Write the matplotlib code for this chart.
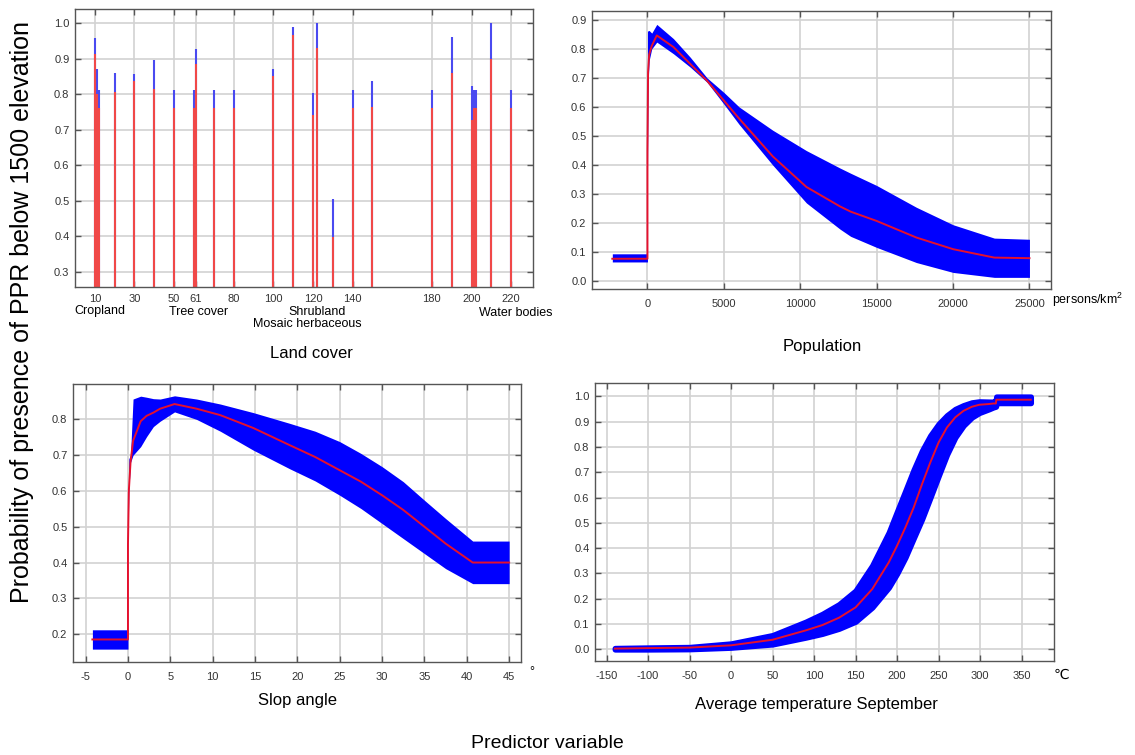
import numpy as np
import matplotlib
matplotlib.use('Agg')
import matplotlib.pyplot as plt

plt.rcParams['font.family'] = ['Liberation Sans', 'DejaVu Sans']
plt.rcParams['mathtext.fontset'] = 'custom'
plt.rcParams['mathtext.rm'] = 'Liberation Sans'
plt.rcParams['mathtext.default'] = 'regular'
plt.rcParams['axes.unicode_minus'] = False

# land cover response (category code, blue = upper, red = mean)
lc_codes = [10, 11, 12, 20, 30, 40, 50, 60, 61, 70, 80, 100, 110, 120, 122,
            130, 140, 150, 180, 190, 200, 201, 202, 210, 220]
lc_upper = [0.958, 0.870, 0.811, 0.861, 0.856, 0.897, 0.811, 0.811, 0.927, 0.811, 0.811,
            0.871, 0.989, 0.804, 1.0, 0.504, 0.811, 0.838, 0.811, 0.961, 0.823, 0.811,
            0.811, 1.0, 0.811]
lc_mean = [0.914, 0.800, 0.762, 0.807, 0.837, 0.816, 0.762, 0.762, 0.884, 0.762, 0.762,
           0.850, 0.967, 0.742, 0.931, 0.397, 0.762, 0.765, 0.762, 0.861, 0.726, 0.762,
           0.762, 0.900, 0.762]
lc_ticks = [10, 30, 50, 61, 80, 100, 120, 140, 180, 200, 220]
lc_classes = ['Cropland', 'Tree cover', 'Shrubland', 'Mosaic herbaceous', 'Water bodies']

# population response
pop_x = [-2300, 0, 0, 40, 110, 280, 610, 1700, 2800, 3900, 5000, 6000, 8200, 10400,
         12600, 13300, 15000, 17600, 20000, 22700, 25000]
pop_mean = [0.078, 0.078, 0.45, 0.72, 0.78, 0.81, 0.846, 0.806, 0.748, 0.69, 0.622, 0.56,
            0.43, 0.325, 0.258, 0.24, 0.208, 0.151, 0.111, 0.082, 0.080]
pop_upper = [0.095, 0.095, 0.86, 0.862, 0.863, 0.854, 0.884, 0.835, 0.771, 0.70, 0.65, 0.60,
             0.52, 0.45, 0.39, 0.372, 0.33, 0.255, 0.195, 0.149, 0.145]
pop_lower = [0.067, 0.067, 0.37, 0.68, 0.76, 0.80, 0.823, 0.783, 0.737, 0.685, 0.61, 0.54,
             0.40, 0.27, 0.18, 0.155, 0.117, 0.065, 0.031, 0.014, 0.014]

# slope response
slope_x = [-4.2, 0, 0, 0.1, 0.3, 0.6, 1.5, 2.2, 3.0, 3.8, 5.5, 8.1, 10.9, 14.8, 19.1,
           22.1, 25, 27.5, 30, 32.5, 35, 37.5, 40.7, 45]
slope_mean = [0.185, 0.185, 0.45, 0.60, 0.68, 0.74, 0.795, 0.81, 0.819, 0.83, 0.843, 0.83,
              0.812, 0.776, 0.728, 0.695, 0.658, 0.626, 0.588, 0.547, 0.50, 0.453, 0.40, 0.40]
slope_upper = [0.212, 0.212, 0.48, 0.69, 0.70, 0.857, 0.865, 0.862, 0.858, 0.857, 0.866,
               0.857, 0.843, 0.819, 0.789, 0.767, 0.738, 0.705, 0.668, 0.626, 0.574, 0.523,
               0.46, 0.46]
slope_lower = [0.158, 0.158, 0.44, 0.60, 0.68, 0.70, 0.724, 0.752, 0.78, 0.795, 0.821, 0.80,
               0.767, 0.714, 0.662, 0.628, 0.588, 0.551, 0.509, 0.467, 0.425, 0.383, 0.341,
               0.341]

# september temperature response
temp_x = [-140, -100, -50, 0, 50, 90, 110, 130, 150, 170, 190, 200, 210, 220, 230, 240, 250,
          260, 270, 280, 290, 299, 311, 316, 319, 319.5, 361]
temp_mean = [0.003, 0.005, 0.007, 0.016, 0.038, 0.075, 0.096, 0.125, 0.166, 0.238, 0.344, 0.41,
             0.482, 0.561, 0.653, 0.739, 0.818, 0.877, 0.917, 0.943, 0.959, 0.967, 0.97,
             0.972, 0.972, 0.987, 0.987]
temp_upper = [0.005, 0.007, 0.009, 0.023, 0.056, 0.109, 0.14, 0.178, 0.232, 0.331, 0.462, 0.545,
              0.627, 0.71, 0.785, 0.845, 0.891, 0.925, 0.95, 0.965, 0.976, 0.98, 0.979,
              0.979, 0.985, 0.999, 0.999]
temp_lower = [0.0, 0.0, 0.001, 0.007, 0.02, 0.047, 0.062, 0.082, 0.11, 0.166, 0.245, 0.30, 0.364,
              0.44, 0.515, 0.60, 0.686, 0.77, 0.838, 0.885, 0.917, 0.935, 0.95, 0.957, 0.96,
              0.974, 0.974]

W, H = 1135, 755
BAND = '#0000ff'
MEAN = '#e5102e'


def box(l, t, r, b):
    return [l / W, 1 - b / H, (r - l) / W, (b - t) / H]


def style(ax):
    ax.grid(True, color='#d2d2d2', lw=1.2)
    ax.set_axisbelow(True)
    for s in ax.spines.values():
        s.set_color('#555555')
        s.set_linewidth(1.0)
    ax.tick_params(direction='in', length=4, width=1, colors='#555555', labelcolor='#333333',
                   labelsize=8, top=True, right=True)
    ax.tick_params(axis='x', pad=7)
    ax.tick_params(axis='y', pad=4)


def label(px, py, s, size=12, **kw):
    fig.text(px / W, 1 - py / H, s, fontsize=size, ha='center', va='center', **kw)


def band_plot(ax, x, lo, hi, mean, edge=0.0):
    ax.fill_between(x, lo, hi, color=BAND, lw=edge, edgecolor=BAND)
    ax.plot(x, mean, color=MEAN, lw=1.4)


fig = plt.figure(figsize=(W / 100, H / 100), dpi=100)

# land cover
ax1 = fig.add_axes(box(75, 9, 533, 287))
style(ax1)
ax1.tick_params(axis='x', pad=5)
ax1.vlines(lc_codes, 0, lc_upper, color='#4a4af0', lw=1.5)
ax1.vlines(lc_codes, 0, lc_mean, color='#f04848', lw=1.5)
ax1.set_xlim(0, 231)
ax1.set_ylim(0.257, 1.04)
ax1.set_xticks(lc_ticks)
ax1.set_yticks(np.arange(0.3, 1.01, 0.1))
ax1.set_yticklabels([f'{v:.1f}' for v in np.arange(0.3, 1.01, 0.1)])
label(100, 311, lc_classes[0], size=9)
label(199, 312, lc_classes[1], size=9)
label(317, 312, lc_classes[2], size=9)
label(307, 324, lc_classes[3], size=9)
label(516, 313, lc_classes[4], size=9)
label(311, 353, 'Land cover')

# population
ax2 = fig.add_axes(box(592, 11, 1051, 289))
style(ax2)
band_plot(ax2, pop_x, pop_lower, pop_upper, pop_mean)
ax2.set_xlim(-3630, 26410)
ax2.set_ylim(-0.026, 0.93)
ax2.set_xticks(range(0, 25001, 5000))
ax2.set_yticks(np.arange(0, 0.91, 0.1))
ax2.set_yticklabels([f'{v:.1f}' for v in np.arange(0, 0.91, 0.1)])
label(1088, 300, 'persons/km$^2$', size=9)
label(822, 347, 'Population')

# slope
ax3 = fig.add_axes(box(73, 384, 521, 662))
style(ax3)
band_plot(ax3, slope_x, slope_lower, slope_upper, slope_mean)
ax3.set_xlim(-6.49, 46.4)
ax3.set_ylim(0.122, 0.899)
ax3.set_xticks(range(-5, 46, 5))
ax3.set_yticks(np.arange(0.2, 0.81, 0.1))
ax3.set_yticklabels([f'{v:.1f}' for v in np.arange(0.2, 0.81, 0.1)])
label(532, 672, '°', size=9)
label(297, 701, 'Slop angle')

# temperature
ax4 = fig.add_axes(box(595, 383, 1054, 661))
style(ax4)
band_plot(ax4, temp_x, temp_lower, temp_upper, temp_mean, edge=4)
ax4.set_xlim(-163.9, 389)
ax4.set_ylim(-0.046, 1.053)
ax4.set_xticks(range(-150, 351, 50))
ax4.set_yticks(np.arange(0, 1.01, 0.1))
ax4.set_yticklabels([f'{v:.1f}' for v in np.arange(0, 1.01, 0.1)])
label(1061, 675, '℃', size=10)
label(816, 704, 'Average temperature September')

label(22, 312, 'Probability of presence of PPR below 1500 elevation', size=18, rotation=90)
label(547, 744, 'Predictor variable', size=14)

fig.savefig('out.png', dpi=100)
